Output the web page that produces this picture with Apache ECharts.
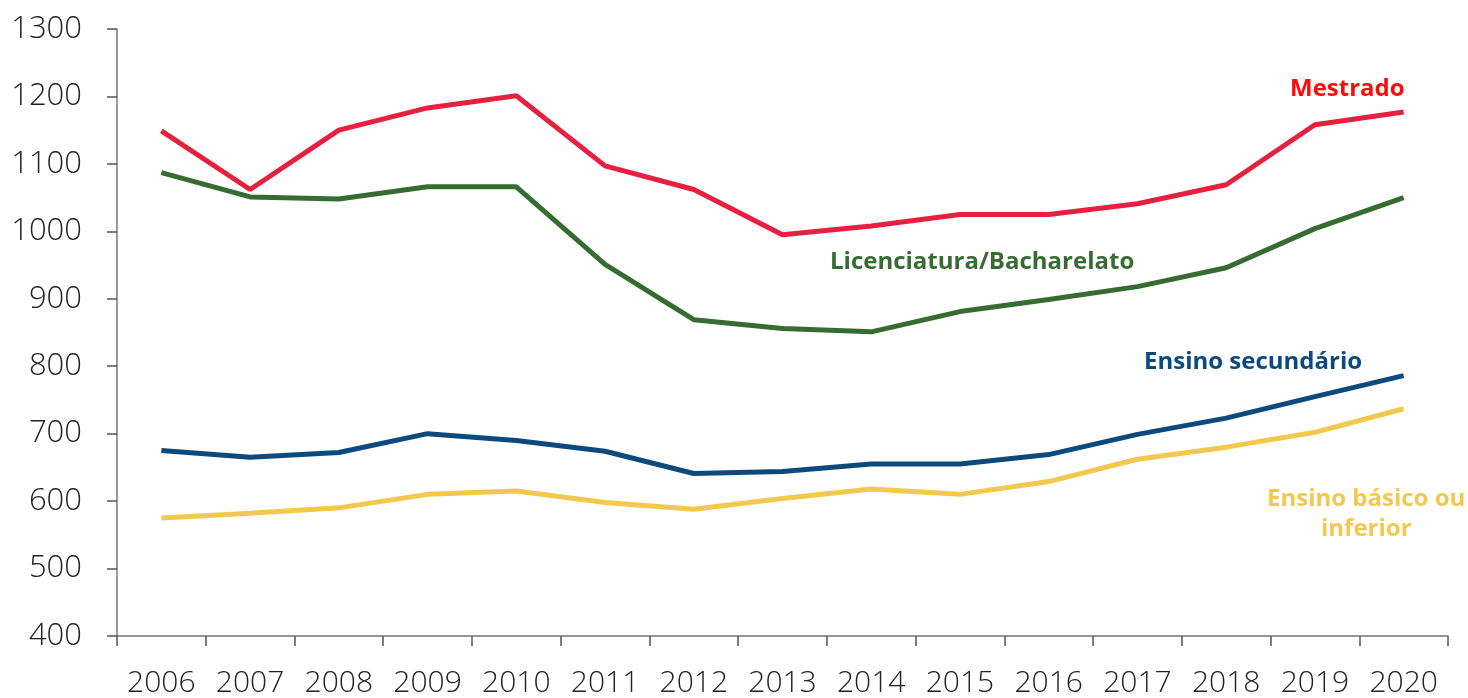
<!DOCTYPE html>
<html>
<head>
<meta charset="utf-8">
<script src="https://cdn.jsdelivr.net/npm/echarts@6/dist/echarts.min.js"></script>
<style>
  html, body { margin: 0; padding: 0; background: #fff; }
  #chart { width: 1468px; height: 698px; }
</style>
</head>
<body>
<div id="chart"></div>
<script>
const years = ["2006", "2007", "2008", "2009", "2010", "2011", "2012", "2013", "2014", "2015", "2016", "2017", "2018", "2019", "2020"];

const mestrado = [1149, 1062, 1150, 1183, 1201, 1097, 1062, 995, 1008, 1025, 1025, 1041, 1069, 1158, 1177];
const licenciatura = [1087, 1051, 1048, 1066, 1066, 951, 869, 856, 851, 881, 899, 918, 946, 1004, 1050];
const secundario = [675, 665, 672, 700, 690, 674, 641, 644, 655, 655, 669, 699, 723, 755, 786];
const basico = [575, 582, 590, 610, 615, 598, 588, 604, 618, 610, 629, 662, 680, 702, 737];

const chart = echarts.init(document.getElementById("chart"));

const font = "'Open Sans', sans-serif";
const labelFont = "bold 24px " + font;

function line(name, data, color) {
  return {
    name: name,
    type: "line",
    data: data,
    symbol: "none",
    lineStyle: { color: color, width: 5 },
    itemStyle: { color: color },
    animation: false
  };
}

// series labels placed by hand like the original chart
const option = {
  backgroundColor: "#fff",
  grid: { left: 117, right: 20, top: 29, bottom: 61 },
  xAxis: {
    type: "category",
    data: years,
    boundaryGap: true,
    axisLine: { lineStyle: { color: "#777", width: 1.5 } },
    axisTick: { show: true, length: 10, lineStyle: { color: "#555", width: 1.5 } },
    axisLabel: { color: "#222", fontSize: 30, fontFamily: font, fontWeight: 300, margin: 32, interval: 0 }
  },
  yAxis: {
    type: "value",
    min: 400,
    max: 1300,
    interval: 100,
    splitLine: { show: false },
    axisLine: { show: true, lineStyle: { color: "#777", width: 1.5 } },
    axisTick: { show: true, length: 10, lineStyle: { color: "#555", width: 1.5 } },
    axisLabel: {
      color: "#222", fontSize: 31, fontFamily: font, fontWeight: 300, margin: 35,
      formatter: function (v) { return String(v); }
    }
  },
  series: [
    line("Mestrado", mestrado, "#E8203F"),
    line("Licenciatura/Bacharelato", licenciatura, "#366B32"),
    line("Ensino secundário", secundario, "#0C4A7E"),
    line("Ensino básico ou inferior", basico, "#F3C84F")
  ],
  graphic: [
    { type: "text", left: 1290, top: 77, style: { text: "Mestrado", fill: "#FF0A0A", font: labelFont } },
    { type: "text", left: 830, top: 250, style: { text: "Licenciatura/Bacharelato", fill: "#366B32", font: labelFont } },
    { type: "text", left: 1144, top: 350, style: { text: "Ensino secundário", fill: "#0C4A7E", font: labelFont } },
    { type: "text", left: 1267, top: 487, style: { text: "Ensino básico ou", fill: "#F3C84F", font: labelFont } },
    { type: "text", left: 1321, top: 517, style: { text: "inferior", fill: "#F3C84F", font: labelFont } }
  ]
};

chart.setOption(option);
</script>
</body>
</html>
